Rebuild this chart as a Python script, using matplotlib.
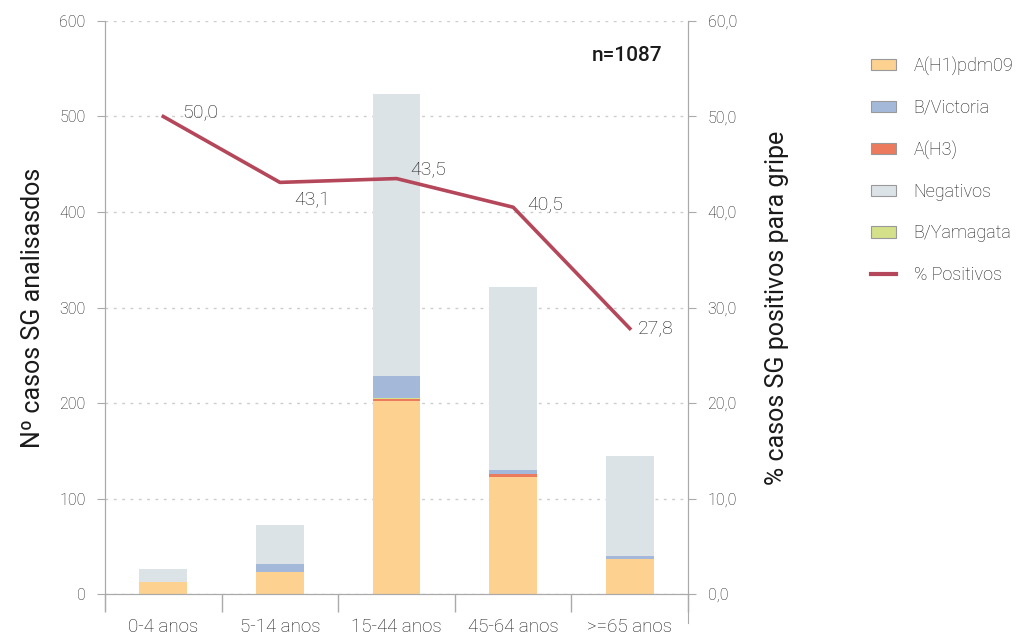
import numpy as np
import matplotlib.pyplot as plt
import matplotlib.patches as mpatches
from matplotlib.lines import Line2D

plt.rcParams["font.family"] = ["Roboto", "DejaVu Sans"]
plt.rcParams["font.weight"] = "light"

grupos = ["0-4 anos", "5-14 anos", "15-44 anos", "45-64 anos", ">=65 anos"]
h1pdm09 = [13, 23, 202, 123, 37]
h3 = [0, 0, 2, 3, 0]
yamagata = [0, 0, 1, 0, 0]
victoria = [0, 8, 23, 4, 3]
negativos = [13, 41, 296, 191, 104]
pct_positivos = [50.0, 43.1, 43.5, 40.5, 27.8]

c_h1 = "#fdd291"
c_vic = "#a4b9da"
c_h3 = "#ec7b5e"
c_neg = "#dce3e6"
c_yam = "#d5e08a"
c_line = "#b5475a"
txt = "#1a1a1a"
axc = "#aaaaaa"

fig = plt.figure(figsize=(10.24, 6.36), dpi=100)
ax = fig.add_axes([0.1025, 0.066, 0.5695, 0.901])
ax2 = ax.twinx()

x = np.arange(len(grupos))
w = 0.41
bottom = np.zeros(len(grupos))
for vals, col in [(h1pdm09, c_h1), (h3, c_h3), (yamagata, c_yam), (victoria, c_vic), (negativos, c_neg)]:
    ax.bar(x, vals, w, bottom=bottom, color=col, zorder=2)
    bottom += np.array(vals)

ax.set_xlim(-0.5, 4.5)
ax.set_ylim(0, 600)
ax.set_yticks(range(0, 601, 100))
ax.grid(axis="y", color="#cccccc", linestyle=(0, (2, 4)), linewidth=1, zorder=0)
ax.set_axisbelow(True)

ax.set_xticks(np.arange(-0.5, 5, 1))
ax.set_xticklabels([])
ax.tick_params(axis="x", which="major", length=13, color=axc, width=1)
ax.set_xticks(x, minor=True)
ax.set_xticklabels(grupos, minor=True, fontsize=13.5, color=txt)
ax.tick_params(axis="x", which="minor", length=0, pad=17)
ax.tick_params(axis="y", length=6, color=axc, labelcolor=txt, labelsize=11.5, pad=8)

ax2.plot(x, pct_positivos, color=c_line, linewidth=2.6, zorder=3)
ax2.set_ylim(0, 60)
ax2.set_yticks(range(0, 61, 10))
ax2.set_yticklabels([f"{v},0" for v in range(0, 61, 10)])
ax2.tick_params(axis="y", length=6, color=axc, labelcolor=txt, labelsize=11.5, pad=8)

offsets = [(14, 3), (10, -13), (10, 7), (10, 2), (6, 0)]
for xi, v, off in zip(x, pct_positivos, offsets):
    ax2.annotate(f"{v:.1f}".replace(".", ","), (xi, v), xytext=off, textcoords="offset points",
                 fontsize=14, color=txt, va="center", ha="left")

for a in (ax, ax2):
    for s in a.spines.values():
        s.set_color(axc)
    a.spines["top"].set_visible(False)
ax.spines["left"].set_bounds(-16, 600)
ax2.spines["right"].set_bounds(-3, 60)

ax.set_ylabel("Nº casos SG analisasdos", fontsize=18, color=txt, labelpad=10)
ax2.set_ylabel("% casos SG positivos para gripe", fontsize=18, color=txt, labelpad=20)

ax.text(0.955, 0.94, "n=1087", transform=ax.transAxes, ha="right", va="center",
        fontsize=15, fontweight="medium", color=txt)

handles = [
    mpatches.Patch(facecolor=c_h1, edgecolor="#999999", linewidth=0.8),
    mpatches.Patch(facecolor=c_vic, edgecolor="#999999", linewidth=0.8),
    mpatches.Patch(facecolor=c_h3, edgecolor="#999999", linewidth=0.8),
    mpatches.Patch(facecolor=c_neg, edgecolor="#999999", linewidth=0.8),
    mpatches.Patch(facecolor=c_yam, edgecolor="#999999", linewidth=0.8),
    Line2D([0], [0], color=c_line, linewidth=3),
]
labels = ["A(H1)pdm09", "B/Victoria", "A(H3)", "Negativos", "B/Yamagata", "% Positivos"]
fig.legend(handles, labels, loc="upper left", bbox_to_anchor=(0.835, 0.937), frameon=False,
           fontsize=13, labelspacing=1.3, handlelength=1.35, handleheight=0.6, handletextpad=1.0,
           labelcolor=txt)

fig.savefig("out.png", dpi=100)
